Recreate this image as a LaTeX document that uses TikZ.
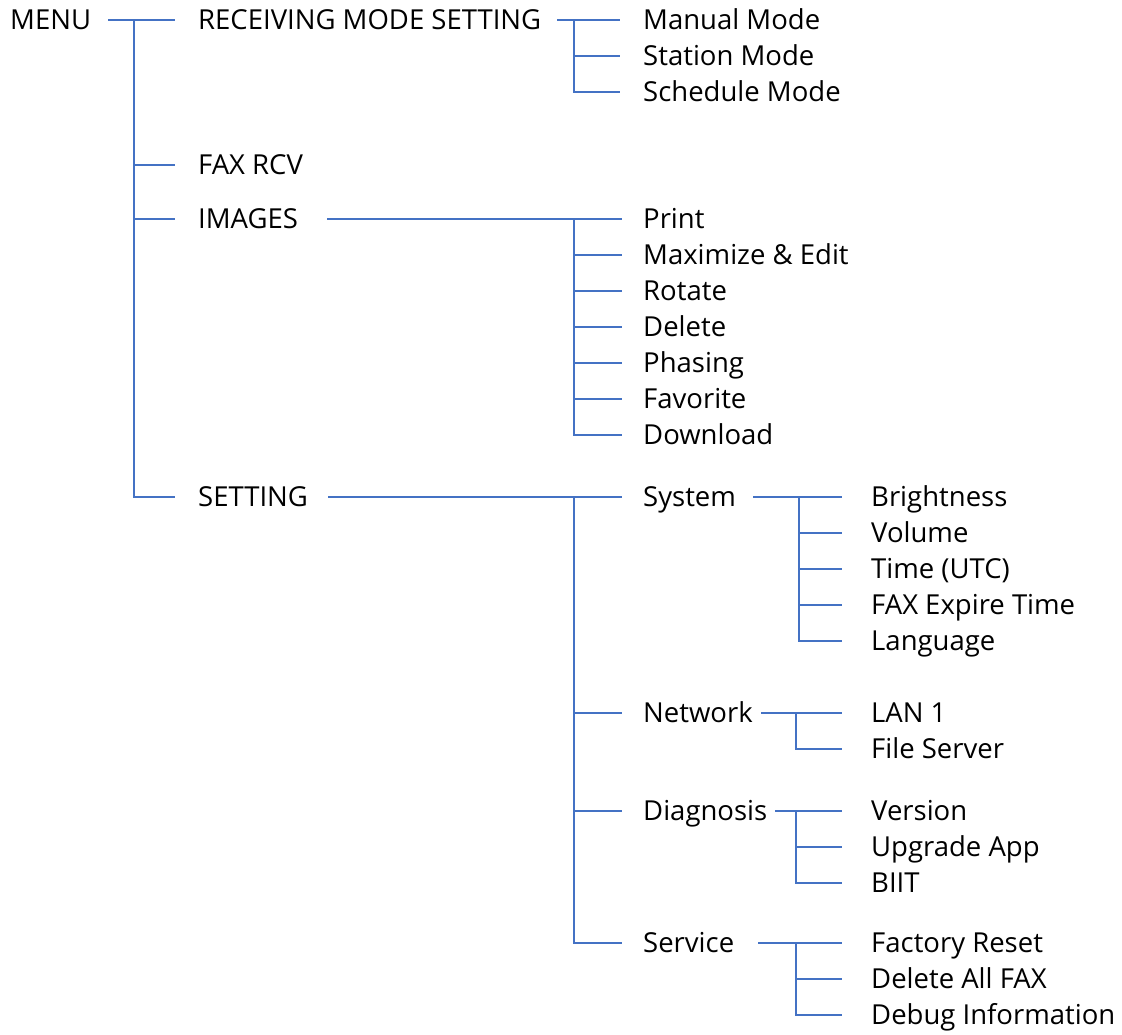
\documentclass[tikz,border=0pt]{standalone}
\usepackage{fontspec}
\setmainfont{Open Sans}
\usetikzlibrary{calc, positioning}

\definecolor{lineblue}{RGB}{68,114,196}

\begin{document}
\begin{tikzpicture}[x=1pt, y=-1pt,
    menu item/.style={anchor=west, inner sep=0pt, text height=19.6pt, text depth=0pt,
        font=\fontsize{27.5}{32}\selectfont},
    branch/.style={draw=lineblue, line width=1.4pt}]
    \useasboundingbox (0,0) rectangle (1122,1034);

    % level 0 and 1
    \node[menu item] (menu) at (10,20) {MENU};
    \node[menu item] (recv) at (198,20) {RECEIVING MODE SETTING};
    \node[menu item] (fax) at (198,165) {FAX RCV};
    \node[menu item] (images) at (198,219) {IMAGES};
    \node[menu item] (setting) at (198,497) {SETTING};

    % receiving mode
    \node[menu item] (manual) at (643,20) {Manual Mode};
    \node[menu item] (station) at (643,56) {Station Mode};
    \node[menu item] (schedule) at (643,92) {Schedule Mode};

    % images
    \node[menu item] (print) at (643,219) {Print};
    \node[menu item] (maximize) at (643,255) {Maximize \& Edit};
    \node[menu item] (rotate) at (643,291) {Rotate};
    \node[menu item] (delete) at (643,327) {Delete};
    \node[menu item] (phasing) at (643,363) {Phasing};
    \node[menu item] (favorite) at (643,399) {Favorite};
    \node[menu item] (download) at (643,435) {Download};

    % setting
    \node[menu item] (system) at (643,497) {System};
    \node[menu item] (network) at (643,713) {Network};
    \node[menu item] (diagnosis) at (643,811) {Diagnosis};
    \node[menu item] (service) at (643,943) {Service};

    \node[menu item] (brightness) at (871,497) {Brightness};
    \node[menu item] (volume) at (871,533) {Volume};
    \node[menu item] (time) at (871,569) {Time (UTC)};
    \node[menu item] (expire) at (871,605) {FAX Expire Time};
    \node[menu item] (language) at (871,641) {Language};

    \node[menu item] (lan) at (871,713) {LAN 1};
    \node[menu item] (fileserver) at (871,749) {File Server};

    \node[menu item] (version) at (871,811) {Version};
    \node[menu item] (upgrade) at (871,847) {Upgrade App};
    \node[menu item] (biit) at (871,883) {BIIT};

    \node[menu item] (reset) at (871,943) {Factory Reset};
    \node[menu item] (deleteall) at (871,979) {Delete All FAX};
    \node[menu item] (debug) at (871,1015) {Debug Information};

    % line starts and trunks
    \coordinate (menu out) at (108,20);
    \coordinate (menu trunk) at (134,20);
    \coordinate (recv out) at (557,20);
    \coordinate (recv trunk) at (574,20);
    \coordinate (images out) at (327,219);
    \coordinate (images trunk) at (574,219);
    \coordinate (setting out) at (328,497);
    \coordinate (setting trunk) at (574,497);
    \coordinate (system out) at (753,497);
    \coordinate (system trunk) at (799,497);
    \coordinate (network out) at (761,713);
    \coordinate (network trunk) at (796,713);
    \coordinate (diagnosis out) at (775,811);
    \coordinate (diagnosis trunk) at (796,811);
    \coordinate (service out) at (758,943);
    \coordinate (service trunk) at (796,943);

    \draw[branch] (menu out) -- ([xshift=-23pt]recv.west);
    \draw[branch] (menu trunk) |- ([xshift=-23pt]setting.west);
    \draw[branch] (menu trunk |- fax.west) -- ([xshift=-23pt]fax.west);
    \draw[branch] (menu trunk |- images.west) -- ([xshift=-23pt]images.west);

    \draw[branch] (recv out) -- ([xshift=-23pt]manual.west);
    \draw[branch] (recv trunk) |- ([xshift=-23pt]schedule.west);
    \draw[branch] (recv trunk |- station.west) -- ([xshift=-23pt]station.west);

    \draw[branch] (images out) -- ([xshift=-21pt]print.west);
    \draw[branch] (images trunk) |- ([xshift=-21pt]download.west);
    \draw[branch] (images trunk |- maximize.west) -- ([xshift=-21pt]maximize.west);
    \draw[branch] (images trunk |- rotate.west) -- ([xshift=-21pt]rotate.west);
    \draw[branch] (images trunk |- delete.west) -- ([xshift=-21pt]delete.west);
    \draw[branch] (images trunk |- phasing.west) -- ([xshift=-21pt]phasing.west);
    \draw[branch] (images trunk |- favorite.west) -- ([xshift=-21pt]favorite.west);

    \draw[branch] (setting out) -- ([xshift=-21pt]system.west);
    \draw[branch] (setting trunk) |- ([xshift=-21pt]service.west);
    \draw[branch] (setting trunk |- network.west) -- ([xshift=-21pt]network.west);
    \draw[branch] (setting trunk |- diagnosis.west) -- ([xshift=-21pt]diagnosis.west);

    \draw[branch] (system out) -- ([xshift=-29pt]brightness.west);
    \draw[branch] (system trunk) |- ([xshift=-29pt]language.west);
    \draw[branch] (system trunk |- volume.west) -- ([xshift=-29pt]volume.west);
    \draw[branch] (system trunk |- time.west) -- ([xshift=-29pt]time.west);
    \draw[branch] (system trunk |- expire.west) -- ([xshift=-29pt]expire.west);

    \draw[branch] (network out) -- ([xshift=-29pt]lan.west);
    \draw[branch] (network trunk) |- ([xshift=-29pt]fileserver.west);

    \draw[branch] (diagnosis out) -- ([xshift=-29pt]version.west);
    \draw[branch] (diagnosis trunk) |- ([xshift=-29pt]biit.west);
    \draw[branch] (diagnosis trunk |- upgrade.west) -- ([xshift=-29pt]upgrade.west);

    \draw[branch] (service out) -- ([xshift=-29pt]reset.west);
    \draw[branch] (service trunk) |- ([xshift=-29pt]debug.west);
    \draw[branch] (service trunk |- deleteall.west) -- ([xshift=-29pt]deleteall.west);
\end{tikzpicture}
\end{document}
